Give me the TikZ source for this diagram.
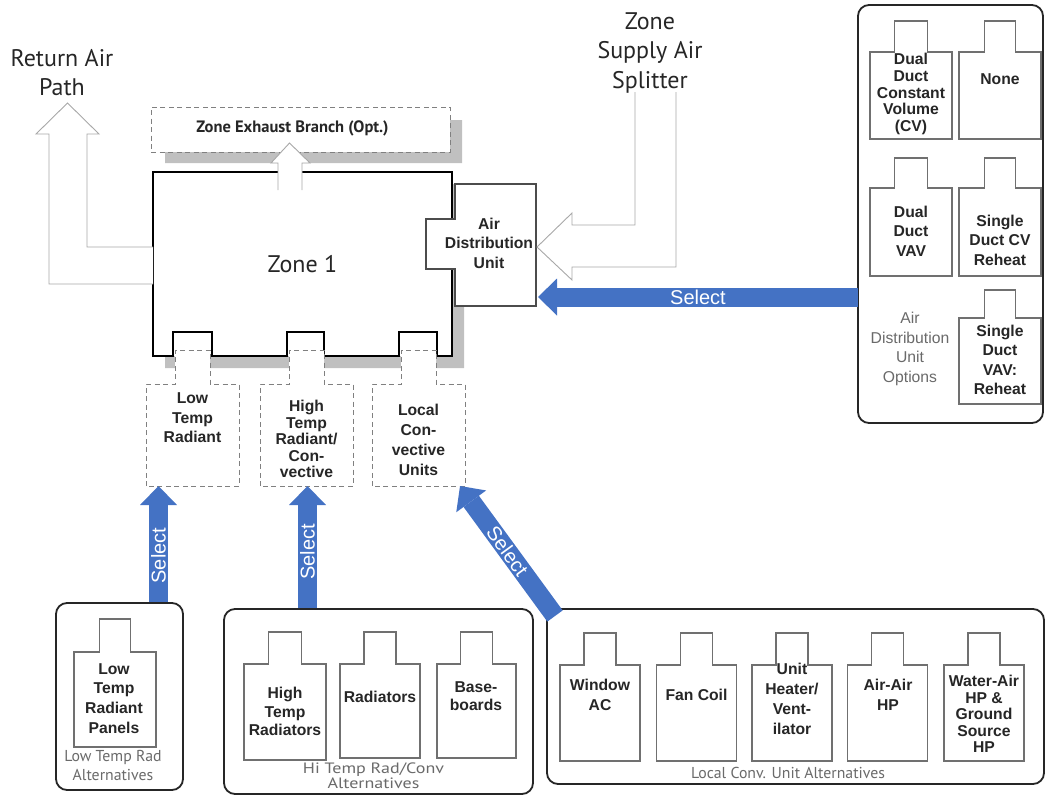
\documentclass[tikz,border=0pt]{standalone}
\usepackage{fontspec}
\setmainfont{Liberation Sans}
\newfontfamily\myriad{PT Sans}
\usetikzlibrary{calc,arrows.meta}

\definecolor{selblue}{HTML}{4472C4}
\definecolor{shadowgray}{HTML}{C0C0C0}
\definecolor{hollowgray}{HTML}{A8A8A8}
\definecolor{boxgray}{HTML}{707070}
\definecolor{txtgray}{HTML}{6A6A6A}
\definecolor{darktxt}{HTML}{262626}

% outline of a box with a tab on top, drawn round a named body node
\newcommand{\tabbox}[4][]{%
  \draw[#1] (#2.south west) -- (#2.north west) -- ($(#2.north)+(-#3/2,0)$)
    -- ++(0,-#4) -- ++(#3,0) -- ++(0,#4) -- (#2.north east) -- (#2.south east) -- cycle;}

\begin{document}
\begin{tikzpicture}[x=1pt, y=-1pt,
  every node/.style={inner sep=0pt, outer sep=0pt},
  optbody/.style 2 args={rectangle, minimum width=#1pt, minimum height=#2pt},
  optline/.style={draw=boxgray, line width=1.1pt, fill=white},
  dashline/.style={draw=black!50, dash pattern=on 5pt off 3.5pt, line width=1pt, fill=white},
  altbox/.style={draw=black!85, line width=1.8pt, rounded corners=11pt, fill=white},
  hollow/.style={draw=hollowgray, line width=0.9pt, fill=white},
  selarrow/.style={draw=selblue, line width=19pt, -{Triangle[length=19pt,width=37pt,line width=0pt]}},
  boxtxt/.style={font=\bfseries\fontsize{15.7}{19.5}\selectfont, text=darktxt, align=center},
  tighttxt/.style={boxtxt, font=\bfseries\fontsize{15.7}{16.6}\selectfont},
  opttxt/.style={font=\fontsize{15.7}{19.7}\selectfont, text=txtgray, align=center},
  alttxt/.style={font=\myriad\fontsize{15.8}{19}\selectfont, text=txtgray, align=center},
  bigtxt/.style={font=\myriad\fontsize{24}{29.5}\selectfont, text=darktxt, align=center},
  seltxt/.style={font=\fontsize{20}{20}\selectfont, text=white}]
\useasboundingbox (0,0) rectangle (1045,796);

% shadows
\fill[shadowgray] (450,120) -- (462,120) -- (462,163) -- (165,163) -- (165,152) -- (450,152) -- cycle;
\fill[shadowgray] (452,184) -- (464,184) -- (464,368) -- (165,368) -- (165,356) -- (452,356) -- cycle;

% exhaust branch
\node[dashline, minimum width=299pt, minimum height=45pt] (exhaust) at (300.5,129.5) {};
\node[font=\myriad\bfseries\fontsize{16.5}{18}\selectfont, text=darktxt] (exhaustT) at (292.5,128) {Zone Exhaust Branch (Opt.)};

% zone
\draw[line width=2.4pt, fill=white] (153,172) -- (452,172) -- (452,220) -- (427,220) -- (427,269) -- (452,269)
  -- (452,356) -- (437,356) -- (437,332) -- (399,332) -- (399,356) -- (324,356) -- (324,332) -- (287,332)
  -- (287,356) -- (212,356) -- (212,332) -- (173,332) -- (173,356) -- (153,356) -- cycle;
\node[minimum width=299pt, minimum height=184pt, font=\myriad\fontsize{24}{28}\selectfont, text=darktxt] (zone) at (302.5,264) {Zone 1};
\filldraw[hollow] (278,190) -- (278,163) -- (271,163) -- (289.5,143) -- (310,163) -- (302,163) -- (302,190);

% air distribution unit
\draw[draw=black!70, line width=1.1pt, fill=white] (455,184) -- (536,184) -- (536,306) -- (455,306) -- (455,269)
  -- (426,269) -- (426,219) -- (455,219) -- cycle;
\node[minimum width=81pt, minimum height=122pt] (adu) at (495.5,245) {};
\node[boxtxt] (aduT) at (489,243) {Air\\Distribution\\Unit};

% zone equipment slots
\node[optbody={93}{102}] (lowtemp) at (192.5,435) {};
\tabbox[dashline]{lowtemp}{35}{34}
\node[optbody={93}{102}] (hitemp) at (306.5,435) {};
\tabbox[dashline]{hitemp}{35}{34}
\node[optbody={93}{102}] (locconv) at (418.5,435) {};
\tabbox[dashline]{locconv}{35}{34}
\node[boxtxt] (lowtempT) at (192.5,418) {Low\\Temp\\Radiant};
\node[tighttxt] (hitempT) at (306.5,439) {High\\Temp\\Radiant/\\Con-\\vective};
\node[boxtxt, font=\bfseries\fontsize{15.7}{20}\selectfont] (locconvT) at (418.5,440) {Local\\Con-\\vective\\Units};

% return air and supply air
\draw[hollow] ([yshift=-20pt]zone.west) -- (49,284) -- (49,134) -- (36,134) -- (67.5,103) -- (99,134)
  -- (87,134) -- (87,247) -- ([yshift=17pt]zone.west);
\draw[hollow] (635,92) -- (635,225) -- (572,225) -- (572,213) -- ([xshift=1pt,yshift=-2pt]adu.east)
  -- (572,280) -- (572,267) -- (676,267) -- (676,92);
\node[bigtxt] (returnT) at (62,72.5) {Return Air\\Path};
\node[bigtxt] (splitT) at (650,52.5) {Zone\\Supply Air\\Splitter};

% air distribution unit options
\node[altbox, minimum width=185pt, minimum height=418pt] (adualt) at (950.5,214) {};
\node[optbody={82}{87}] (ddcv) at (911,95.5) {};
\tabbox[optline]{ddcv}{33}{31}
\node[optbody={82}{87}] (none) at (1000,95.5) {};
\tabbox[optline]{none}{31}{31}
\node[optbody={82}{88}] (ddvav) at (911,232) {};
\tabbox[optline]{ddvav}{33}{30}
\node[optbody={82}{88}] (sdcv) at (1000,232) {};
\tabbox[optline]{sdcv}{31}{30}
\node[optbody={82}{86}] (sdvav) at (1000,361) {};
\tabbox[optline]{sdvav}{31}{28}
\node[tighttxt] (ddcvT) at (911,94) {Dual\\Duct\\Constant\\Volume\\(CV)};
\node[boxtxt] (noneT) at (1000,79) {None};
\node[boxtxt] (ddvavT) at (911,231) {Dual\\Duct\\VAV};
\node[boxtxt] (sdcvT) at (1000,240) {Single\\Duct CV\\Reheat};
\node[boxtxt] (sdvavT) at (1000,360) {Single\\Duct\\VAV:\\Reheat};
\node[opttxt] (adualtT) at (910,349) {Air\\Distribution\\Unit\\Options};

% low temp radiant alternatives
\node[altbox, minimum width=127pt, minimum height=187pt] (lowalt) at (119.5,696.5) {};
\node[optbody={82}{95}] (lowpanel) at (115,699.5) {};
\tabbox[optline]{lowpanel}{31}{33}
\node[boxtxt, font=\bfseries\fontsize{15.7}{19.7}\selectfont] (lowpanelT) at (114,698.5) {Low\\Temp\\Radiant\\Panels};
\node[alttxt] (lowaltT) at (113,765.5) {Low Temp Rad\\Alternatives};

% hi temp radiant / convective alternatives
\node[altbox, minimum width=309pt, minimum height=185pt] (hialt) at (378.5,701.5) {};
\node[optbody={82}{96}] (hitemprad) at (285,712) {};
\tabbox[optline]{hitemprad}{33}{32}
\node[optbody={80}{94}] (radiators) at (380,711) {};
\tabbox[optline]{radiators}{32}{32}
\node[optbody={79}{94}] (baseboards) at (476.5,711) {};
\tabbox[optline]{baseboards}{32}{32}
\node[boxtxt, font=\bfseries\fontsize{15.7}{18.5}\selectfont] (hitempradT) at (285,711.5) {High\\Temp\\Radiators};
\node[boxtxt] (radiatorsT) at (380,697) {Radiators};
\node[boxtxt, font=\bfseries\fontsize{15.7}{18}\selectfont] (baseboardsT) at (476,696) {Base-\\boards};
\node[alttxt, font=\myriad\fontsize{15}{15}\selectfont] (hialtT) at (373.5,776) {\scalebox{1.2}[1]{Hi Temp Rad/Conv}\\\scalebox{1.2}[1]{Alternatives}};

% local convective unit alternatives
\node[altbox, minimum width=497pt, minimum height=175pt] (locialt) at (795.5,696.5) {};
\node[optbody={80}{96}] (windowac) at (600,713) {};
\tabbox[optline]{windowac}{32}{32}
\node[optbody={80}{96}] (fancoil) at (696.5,713) {};
\tabbox[optline]{fancoil}{32}{32}
\node[optbody={80}{96}] (unitheat) at (792,713) {};
\tabbox[optline]{unitheat}{32}{32}
\node[optbody={80}{96}] (airair) at (887.5,713) {};
\tabbox[optline]{airair}{32}{32}
\node[optbody={80}{96}] (waterair) at (984,713) {};
\tabbox[optline]{waterair}{32}{32}
\node[boxtxt] (windowacT) at (600,695) {Window\\AC};
\node[boxtxt] (fancoilT) at (696.5,695) {Fan Coil};
\node[boxtxt, font=\bfseries\fontsize{15.7}{20}\selectfont] (unitheatT) at (792,699) {Unit\\Heater/\\Vent-\\ilator};
\node[boxtxt] (airairT) at (888,695) {Air-Air\\HP};
\node[tighttxt] (waterairT) at (984,714) {Water-Air\\HP \&\\Ground\\Source\\HP};
\node[alttxt] (localtT) at (788,773) {Local Conv. Unit Alternatives};

% select arrows
\draw[selarrow] ([xshift=39pt,yshift=1pt]lowalt.north) -- node[seltxt, sloped, pos=0.4] (selLow) {Select} ([xshift=-34pt]lowtemp.south);
\draw[selarrow] ([xshift=-71pt,yshift=1pt]hialt.north) -- node[seltxt, sloped, pos=0.46] (selHi) {Select} ([xshift=1pt]hitemp.south);
\draw[selarrow] ([xshift=8pt,yshift=-7pt]locialt.north west) -- node[seltxt, sloped, midway] (selLoc) {Select} ([xshift=-5pt]locconv.south east);
\draw[selarrow] ([yshift=-83pt]adualt.west) -- node[seltxt, sloped, midway] (selAdu) {Select} ([xshift=2pt,yshift=-52pt]adu.east);
\end{tikzpicture}
\end{document}
